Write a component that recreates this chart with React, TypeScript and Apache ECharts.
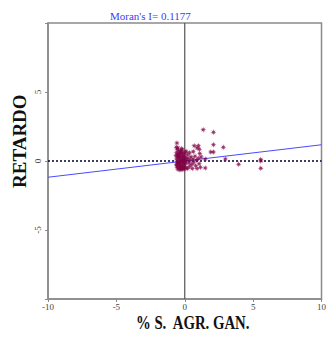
import React, { useEffect, useRef } from "react";
import * as echarts from "echarts";

const TITLE = "Moran's I= 0.1177";
const MORAN_I = 0.1177;
const X_NAME = "% S.  AGR. GAN.";
const Y_NAME = "RETARDO";
const AXIS_MIN = -10;
const AXIS_MAX = 10;
const TICK_STEP = 5;

// scatter values: x = standardized variable, y = spatial lag
const xs = [
  1.35, 2.1, 2.1, 2.82, 1.9, 2.1, 2.97, 1.5, 1.5, 3.94, 5.56, 5.56, 5.56, -0.57, 0.69, 1.0, 1.07, 0.62, 0.9, 1.1,
  -0.55, -0.45, -0.3, -0.5, -0.35, -0.2, -0.1, -0.55, -0.4, -0.25, -0.15, -0.05, 0.05, -0.6, -0.45, -0.3, -0.2,
  -0.1, 0.0, -0.55, -0.4, -0.3, -0.15, -0.05, 0.1, -0.6, -0.45, -0.3, -0.2, -0.1, 0.05, -0.55, -0.4, -0.25, -0.15,
  0.0, 0.1, -0.5, -0.35, -0.2, -0.05, 0.2, 0.15, 0.25, 0.3, 0.35, 0.4, 0.45, 0.5, 0.55, 0.6, 0.65, 0.75, 0.8, 0.85,
  0.9, 1.0, 1.05, 1.15, 1.2, 0.2, 0.35, 0.1, -0.6, -0.58, -0.48, -0.38, -0.28, -0.12, 0.02, -0.62, -0.52, -0.42,
  -0.33, -0.22, -0.08, -0.64, -0.5, -0.36, -0.18,
];
const ys = [
  2.27, 2.08, 1.18, 0.99, 0.65, 0.65, 0.14, 0.14, -0.5, -0.24, 0.1, 0.0, -0.53, 1.3, 1.1, 1.1, 0.85, 0.68, 0.95, 0.55,
  0.85, 0.7, 0.75, 0.5, 0.55, 0.6, 0.5, 0.35, 0.3, 0.4, 0.3, 0.35, 0.25, 0.15, 0.1, 0.2, 0.1,
  0.15, 0.05, -0.05, -0.1, 0.0, -0.05, -0.1, -0.05, -0.25, -0.2, -0.3, -0.2, -0.25, -0.2, -0.45, -0.5, -0.45, -0.55,
  -0.4, -0.5, -0.6, -0.65, -0.62, -0.6, -0.55, 0.1, 0.2, -0.15, -0.4, 0.05, 0.3, -0.25, -0.55, 0.15, -0.1, 0.35, -0.35, 0.05,
  -0.55, 0.2, -0.2, -0.45, 0.3, 0.45, 0.6, 0.7, 0.6, -0.35, 0.25, -0.35, 0.65, -0.4, 0.6, 1.0, -0.15, 0.45,
  -0.5, 0.9, 0.0, 0.4, 0.95, -0.15, 0.8,
];

const STAR =
  "path://M5,0 L5.9,3.3 L8.5,1.5 L6.8,4.2 L10,5 L6.8,5.8 L8.5,8.5 L5.9,6.7 L5,10 L4.1,6.7 L1.5,8.5 L3.2,5.8 L0,5 L3.2,4.2 L1.5,1.5 L4.1,3.3 Z";

export default function App() {
  const ref = useRef<HTMLDivElement>(null);
  useEffect(() => {
    if (!ref.current) return;
    const chart = echarts.init(ref.current, null, { renderer: "svg" });
    const pts = xs.map((x, i) => [x, ys[i]]);
    const serif = "'Liberation Serif', 'Times New Roman', serif";
    const axisCommon = {
      type: "value" as const,
      min: AXIS_MIN,
      max: AXIS_MAX,
      interval: TICK_STEP,
      splitLine: { show: false },
      axisLine: { show: true, onZero: false, lineStyle: { color: "#8a8a8a", width: 1.5 } },
      axisTick: { show: true, length: 3, lineStyle: { color: "#8a8a8a" } },
    };
    chart.setOption({
      animation: false,
      backgroundColor: "#ffffff",
      title: {
        text: TITLE,
        left: 110,
        top: 10,
        padding: 0,
        textStyle: { fontFamily: serif, fontSize: 11, fontWeight: "normal", color: "#3c3cf0" },
      },
      grid: {
        left: 48,
        right: 6,
        top: 23,
        bottom: 42,
        show: true,
        borderColor: "#8a8a8a",
        borderWidth: 1.5,
      },
      xAxis: {
        ...axisCommon,
        axisLabel: { fontFamily: serif, fontSize: 9, color: "#444", margin: 3 },
      },
      yAxis: {
        ...axisCommon,
        axisLabel: {
          fontFamily: serif,
          fontSize: 9,
          color: "#444",
          rotate: 90,
          margin: 6,
          formatter: (v: number) => (Math.abs(v) === AXIS_MAX ? "" : String(v)),
        },
      },
      graphic: [
        {
          type: "text",
          x: 136,
          y: 314,
          scaleX: 0.82,
          style: { text: X_NAME, font: `bold 18px ${serif}`, fill: "#111", align: "left", verticalAlign: "top" },
        },
        {
          type: "text",
          x: 10,
          y: 188,
          rotation: Math.PI / 2,
          style: { text: Y_NAME, font: `bold 19px ${serif}`, fill: "#111", align: "left", verticalAlign: "top" },
        },
      ],
      series: [
        {
          type: "line",
          data: [[0, AXIS_MIN], [0, AXIS_MAX]],
          symbol: "none",
          lineStyle: { color: "#555", width: 1.2 },
          silent: true,
        },
        {
          type: "line",
          data: [[AXIS_MIN, 0], [AXIS_MAX, 0]],
          symbol: "none",
          lineStyle: { color: "#000030", width: 1.5, type: [2, 2] },
          silent: true,
        },
        {
          type: "line",
          data: [[AXIS_MIN, AXIS_MIN * MORAN_I], [AXIS_MAX, AXIS_MAX * MORAN_I]],
          symbol: "none",
          lineStyle: { color: "#4a4aff", width: 1 },
          silent: true,
          z: 3,
        },
        {
          type: "scatter",
          data: pts,
          symbol: STAR,
          symbolSize: 6,
          itemStyle: { color: "#800045" },
          z: 4,
        },
      ],
    });
    return () => chart.dispose();
  }, []);
  return (
    <div
      ref={ref}
      style={{ position: "fixed", left: 0, top: 0, width: 329, height: 341 }}
    />
  );
}
